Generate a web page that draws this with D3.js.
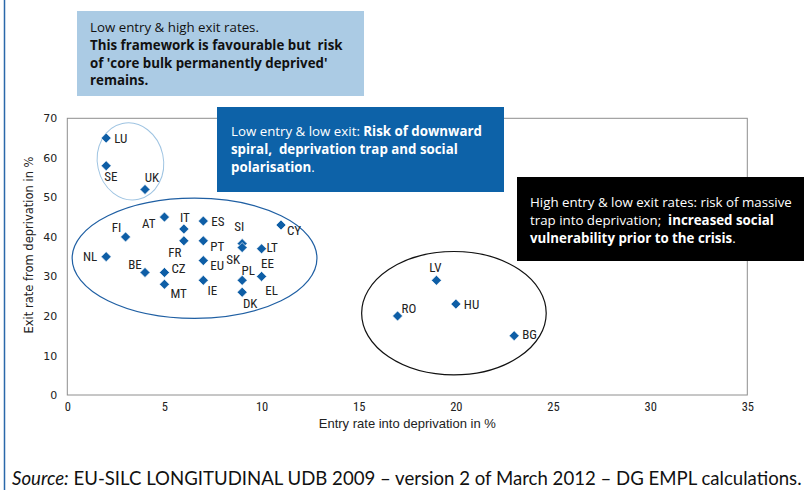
<!DOCTYPE html>
<html>
<head>
<meta charset="utf-8">
<script src="https://cdn.jsdelivr.net/npm/d3@7"></script>
<style>
  html, body { margin: 0; padding: 0; background: #fff; overflow: hidden; }
  svg { display: block; }
</style>
</head>
<body>
<svg id="chart" width="810" height="490"></svg>
<script>
// ---- Data ----
const countries = ["LU","SE","UK","FI","NL","AT","IT","FR","ES","PT","EU","IE","BE","CZ","MT","SI","SK","PL","DK","LT","EE","EL","CY","LV","HU","RO","BG"];
const entryRate = [2,2,4,3,2,5,6,6,7,7,7,7,4,5,5,9,9,9,9,10,10,10,11,19,20,17,23];
const exitRate  = [65,58,52,40,35,45,42,39,44,39,34,29,31,31,28,38.3,37.3,29,26,37,30,30,43,29,23,20,15];
const xTicks = [0,5,10,15,20,25,30,35];
const yTicks = [0,10,20,30,40,50,60,70];
const xTitle = "Entry rate into deprivation in %";
const yTitle = "Exit rate from deprivation in %";
const sourceItalic = "Source:";
const sourceRest = " EU-SILC LONGITUDINAL UDB 2009 \u2013 version 2 of March 2012 \u2013 DG EMPL calculations.";

// label offsets (dx, dy) relative to the marker, in px
const labelPos = {
  LU:[8,0,"start"], SE:[-2,11,"start"], UK:[7,-12,"middle"], FI:[-9,-10,"middle"], NL:[-9,0,"end"],
  AT:[-9,6,"end"], IT:[1,-12,"middle"], ES:[8,0,"start"], FR:[-9,11,"middle"], PT:[7,5,"start"],
  EU:[7,5,"start"], IE:[9,10,"middle"], BE:[-10,-8,"middle"], CZ:[7,-4,"start"], MT:[6,9,"start"],
  SI:[-3,-17,"middle"], SK:[-9,12,"middle"], PL:[6,-10,"middle"], DK:[8,11,"middle"], LT:[5,-1,"start"],
  EE:[6,-13,"middle"], EL:[10,14,"middle"], CY:[6,5,"start"], LV:[-1,-13,"middle"], HU:[8,0,"start"],
  RO:[4,-8,"start"], BG:[8,-1,"start"]
};

const svg = d3.select("#chart");
const W = 810, H = 490;
const plot = {left: 67.3, right: 747.3, top: 118.3, bottom: 395};

const x = d3.scaleLinear().domain([0,35]).range([plot.left, plot.right]);
const y = d3.scaleLinear().domain([0,70]).range([plot.bottom, plot.top]);

// left page rule
svg.append("line").attr("x1",4.5).attr("x2",4.5).attr("y1",0).attr("y2",H)
  .attr("stroke","#2a68aa").attr("stroke-width",1.5);

// plot frame
svg.append("rect").attr("x",plot.left).attr("y",plot.top)
  .attr("width",plot.right-plot.left).attr("height",plot.bottom-plot.top)
  .attr("fill","none").attr("stroke","#8e8e8e").attr("stroke-width",1);

// axes (labels only)
const xAxis = d3.axisBottom(x).tickValues(xTicks).tickSize(0).tickPadding(7);
const gx = svg.append("g").attr("transform",`translate(0,${plot.bottom})`).call(xAxis);
gx.select(".domain").remove();
gx.selectAll("text").attr("font-family","'Liberation Sans Narrow', 'Roboto Condensed', sans-serif")
  .attr("font-size",12.5).attr("fill","#222");

const yAxis = d3.axisLeft(y).tickValues(yTicks).tickSize(0).tickPadding(10);
const gy = svg.append("g").attr("transform",`translate(${plot.left},0)`).call(yAxis);
gy.select(".domain").remove();
gy.selectAll("text").attr("font-family","'DejaVu Sans', sans-serif")
  .attr("font-size",11).attr("fill","#222");

// axis titles
svg.append("text").attr("x",(plot.left+plot.right)/2).attr("y",428)
  .attr("text-anchor","middle").attr("font-family","'Liberation Sans Narrow', sans-serif")
  .attr("font-size",13).attr("fill","#222").text(xTitle);
svg.append("text").attr("transform",`translate(33,245) rotate(-90)`)
  .attr("text-anchor","middle").attr("font-family","'DejaVu Sans', sans-serif")
  .attr("font-size",11.5).attr("fill","#222").text(yTitle);

// cluster ellipses (data units)
const ellipses = [
  {cx:3.25, cy:59.1, rx:1.7, ry:9.8, rot:-12, stroke:"#9fc4e2", w:1},
  {cx:6.55, cy:34.6, rx:6.3, ry:15.2, rot:0, stroke:"#1f5fa3", w:1.2},
  {cx:19.9, cy:20.7, rx:4.75, ry:15.6, rot:0, stroke:"#111", w:1.2}
];
ellipses.forEach(e => {
  const cx = x(e.cx), cy = y(e.cy);
  svg.append("ellipse").attr("cx",cx).attr("cy",cy)
    .attr("rx",x(e.rx)-x(0)).attr("ry",y(0)-y(e.ry))
    .attr("transform",`rotate(${e.rot},${cx},${cy})`)
    .attr("fill","none").attr("stroke",e.stroke).attr("stroke-width",e.w);
});

// markers
const data = countries.map((c,i)=>({c, ex: entryRate[i], xr: exitRate[i]}));
const sym = d3.symbol().type(d3.symbolSquare).size(50);
svg.append("g").selectAll("path").data(data).join("path")
  .attr("d",sym)
  .attr("transform",d=>`translate(${x(d.ex)},${y(d.xr)}) rotate(45)`)
  .attr("fill","#0e5ea6").attr("stroke","#fff").attr("stroke-width",0.6);

// labels
svg.append("g").selectAll("text").data(data).join("text")
  .attr("x",d=>x(d.ex)+labelPos[d.c][0])
  .attr("y",d=>y(d.xr)+labelPos[d.c][1])
  .attr("dy","0.36em")
  .attr("text-anchor",d=>labelPos[d.c][2])
  .attr("font-family","'Liberation Sans Narrow', 'Roboto Condensed', sans-serif")
  .attr("font-size",13).attr("fill","#222")
  .text(d=>d.c);

// annotation boxes
function box(bx, by, bw, bh, fill, color, lines, baselines, tx) {
  svg.append("rect").attr("x",bx).attr("y",by).attr("width",bw).attr("height",bh).attr("fill",fill);
  lines.forEach((ln,i)=>{
    const t = svg.append("text").attr("x",tx).attr("y",baselines[i])
      .attr("font-family","'Open Sans', Lato, sans-serif").attr("font-size",13.3)
      .attr("fill",color).attr("xml:space","preserve");
    ln.forEach(seg=>{
      t.append("tspan").attr("font-weight",seg[1]?"bold":"normal").text(seg[0]);
    });
  });
}
box(77, 11, 287, 85, "#abcbe4", "#111",
  [[["Low entry & high exit rates.",0]],
   [["This framework is favourable but  risk",1]],
   [["of 'core bulk permanently deprived'",1]],
   [["remains.",1]]],
  [32, 50, 67.5, 85], 90);
box(217, 107, 287, 85, "#0d62a8", "#fff",
  [[["Low entry & low exit: ",0],["Risk of downward",1]],
   [["spiral,  deprivation trap and social",1]],
   [["polarisation",1],[".",0]]],
  [136, 154, 171.5], 231);
box(517, 177, 287, 84, "#000", "#fff",
  [[["High entry & low exit rates: risk of massive",0]],
   [["trap into deprivation;  ",0],["increased social",1]],
   [["vulnerability prior to the crisis",1],[".",0]]],
  [207, 225, 242.5], 530);

// source
const src = svg.append("text").attr("x",12).attr("y",485)
  .attr("font-family","Lato, 'Open Sans', sans-serif").attr("font-size",18.6).attr("fill","#111");
src.append("tspan").attr("font-style","italic").text(sourceItalic);
src.append("tspan").text(sourceRest);
</script>
</body>
</html>
